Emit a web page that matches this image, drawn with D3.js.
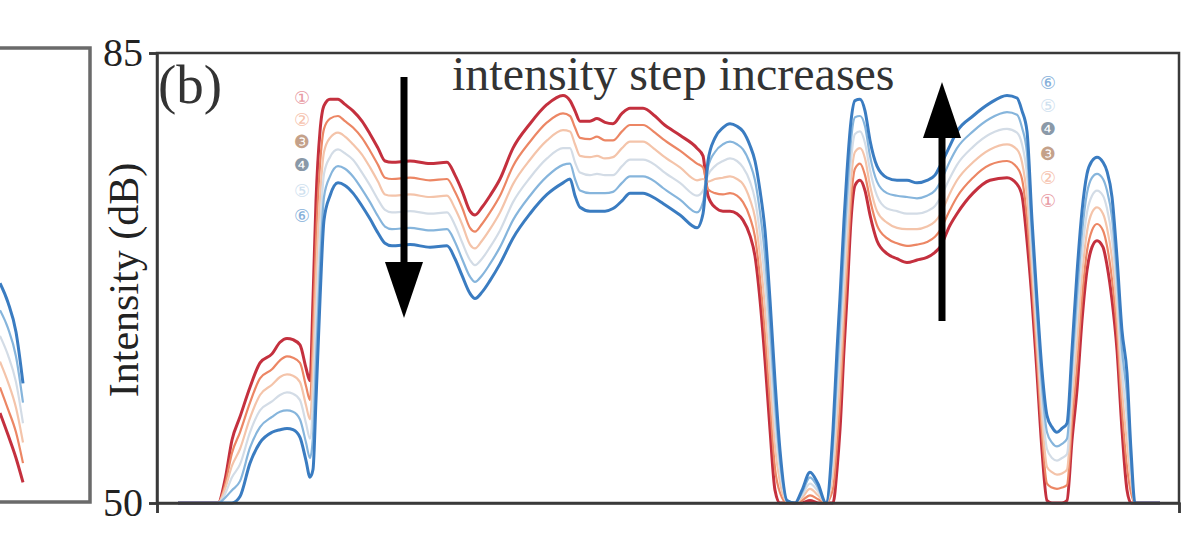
<!DOCTYPE html>
<html><head><meta charset="utf-8">
<script src="https://cdn.jsdelivr.net/npm/d3@7"></script>
<style>html,body{margin:0;padding:0;background:#fff;}svg{display:block;}</style>
</head><body>
<svg id="chart" width="1200" height="551"></svg>
<script>
// ---- data ----
const positions = [21,61,68,75,83,93,103,115,123,130,136,143,149,153,156,159,163,167,173,181,188,196,205,213,221,228,235,253,273,290,298,305,313,318,325,333,343,356,373,390,406,413,418,423,433,440,448,456,465,473,486,498,506,523,540,546,551,558,566,573,580,586,593,598,603,608,613,618,623,630,638,645,653,661,669,676,680,683,687,690,694,698,703,708,713,720,730,740,750,760,770,778,783,793,800,816,833,850,860,865,870,875,880,885,890,895,900,905,910,915,920,925,930,935,940,946,950,955,960,965,970,974,978,1003];
const series1 = [50,50,51.8,54.9,56.7,59.0,60.9,61.6,62.5,62.8, 62.7,62.3,60.5,59.5,65.8,73.5,78.9,80.9,81.4,81.4, 81.0,80.5,79.7,78.7,77.6,76.6,76.5,76.6,76.4,76.5, 75.5,74.3,72.7,72.4,73.0,73.9,75.2,77.6,79.5,81.0, 81.7,81.3,80.5,79.7,79.7,79.9,79.6,79.5,80.3,80.7, 80.7,80.1,79.5,78.6,77.6,77.0,73.9,73.0,72.7,72.7, 72.5,72.0,70.8,69.2,65.8,61.1,55.7,51.0,50.0,50, 50,50,50.2,50,50,50,52.6,55.7,61.9,66.0, 72.0,74.7,75.1,74.3,72.4,70.4,69.4,69.0,68.7,68.9, 69.1,69.5,69.9,71.6,72.5,74.1,75.1,75.3,74.8,73.9, 70.4,65.8,60.1,54.1,50.2,50,50,50,50.2,54.9, 58.8,64.2,68.1,69.9,70.4,69.9,68.5,65.8,61.9,55.7, 51.0,50,50,50];
const series2 = [50,50,51.4,53.9,55.5,57.8,59.7,60.4,61.1,61.4, 61.3,60.9,59.1,58.0,63.2,70.4,76.3,79.1,79.9,80.1, 79.7,79.2,78.4,77.4,76.3,75.3,75.2,75.3,75.1,75.2, 74.2,73.0,71.4,71.1,71.7,72.6,73.9,76.2,78.1,79.6, 80.3,80.1,79.2,78.4,78.3,78.5,78.2,78.2,78.9,79.4, 79.4,78.8,78.3,77.4,76.4,76.1,74.4,74.1,74.0,74.1, 73.9,73.4,72.2,70.7,67.5,63.1,57.7,52.7,50.8,50, 50,50.2,50.6,50.3,50,51.1,54.5,57.8,63.9,68.0, 73.5,76.0,76.4,75.5,73.6,71.6,70.6,70.2,70.0,70.1, 70.3,70.7,71.2,72.8,73.8,75.3,76.3,76.6,76.1,75.2, 72.1,67.0,61.2,55.3,51.5,51.2,51.1,51.2,51.4,56.3, 60.6,65.9,69.6,71.2,71.7,71.2,70.0,67.4,63.3,57.2, 52.8,50.8,50,50];
const series3 = [50,50,51.1,52.9,54.2,56.6,58.4,59.2,59.8,60.0, 59.9,59.4,57.6,56.5,60.5,67.3,73.7,77.3,78.4,78.8, 78.5,77.9,77.1,76.1,75.0,74.0,73.9,74.0,73.8,73.9, 72.9,71.7,70.1,69.8,70.4,71.3,72.6,74.8,76.7,78.2, 79.0,78.9,77.9,77.0,76.9,77.0,76.8,76.9,77.6,78.1, 78.1,77.5,77.0,76.1,75.1,75.2,75.0,75.2,75.3,75.4, 75.2,74.8,73.6,72.2,69.2,65.1,59.7,54.4,51.6,50.1, 50,50.4,51.1,50.6,50,52.3,56.3,59.8,65.9,69.9, 75.1,77.3,77.6,76.8,74.7,72.7,71.8,71.4,71.3,71.3, 71.5,71.9,72.4,74.1,75.1,76.5,77.5,77.9,77.5,76.5, 73.8,68.3,62.4,56.6,52.8,52.4,52.2,52.3,52.6,57.7, 62.4,67.6,71.1,72.6,73.0,72.5,71.4,69.0,64.8,58.8, 54.6,51.6,50,50];
const series4 = [50,50,50.7,52.0,53.0,55.5,57.2,57.9,58.4,58.6, 58.5,58.0,56.2,55.0,57.9,64.2,71.0,75.6,76.9,77.5, 77.2,76.7,75.7,74.7,73.6,72.8,72.6,72.7,72.5,72.6, 71.6,70.3,68.9,68.5,69.0,69.9,71.2,73.4,75.3,76.8, 77.6,77.6,76.5,75.7,75.5,75.6,75.5,75.5,76.2,76.7, 76.7,76.3,75.8,74.9,73.9,74.3,75.5,76.2,76.6,76.8, 76.6,76.1,75.0,73.6,70.9,67.2,61.8,56.1,52.5,50.1, 50,50.6,51.5,50.9,50,53.4,58.2,61.9,68.0,71.9, 76.6,78.7,78.9,78.0,75.9,73.9,72.9,72.7,72.5,72.5, 72.7,73.1,73.7,75.3,76.3,77.7,78.7,79.1,78.8,77.9, 75.5,69.5,63.5,57.8,54.2,53.5,53.3,53.5,53.8,59.1, 64.3,69.3,72.6,73.9,74.3,73.9,72.9,70.6,66.2,60.3, 56.5,52.5,50,50];
const series5 = [50,50,50.4,51.0,51.7,54.3,55.9,56.7,57.1,57.2, 57.1,56.5,54.7,53.5,55.2,61.1,68.4,73.8,75.4,76.2, 76.0,75.4,74.4,73.4,72.3,71.5,71.3,71.4,71.2,71.3, 70.3,69.0,67.6,67.2,67.7,68.6,69.9,72.0,73.9,75.4, 76.3,76.4,75.2,74.3,74.1,74.1,74.1,74.2,74.9,75.4, 75.4,75.0,74.5,73.6,72.6,73.4,76.1,77.3,77.9,78.1, 77.9,77.5,76.4,75.1,72.6,69.2,63.8,57.8,53.3,50.2, 50,50.8,52.0,51.2,50,54.6,60.0,63.9,70.0,73.8, 78.2,80.0,80.1,79.3,77.0,75.0,74.1,73.9,73.8,73.7, 73.9,74.3,74.9,76.6,77.6,78.9,79.9,80.4,80.2,79.2, 77.2,70.8,64.7,59.1,55.5,54.7,54.4,54.6,55.0,60.5, 66.1,71.0,74.1,75.3,75.6,75.2,74.3,72.2,67.7,61.9, 58.3,53.3,50,50];
const series6 = [50,50,50,50,50.5,53.1,54.7,55.5,55.7,55.8, 55.7,55.1,53.3,52.0,52.6,58.0,65.8,72.0,73.9,74.9, 74.7,74.1,73.1,72.1,71.0,70.2,70.0,70.1,69.9,70.0, 69.0,67.7,66.3,65.9,66.4,67.3,68.6,70.6,72.5,74.0, 74.9,75.2,73.9,73.0,72.7,72.7,72.7,72.9,73.5,74.1, 74.1,73.7,73.3,72.4,71.4,72.5,76.6,78.4,79.2,79.5, 79.3,78.9,77.8,76.6,74.3,71.2,65.8,59.5,54.1,50.2, 50,51.0,52.4,51.5,50,55.7,61.9,66.0,72.0,75.8, 79.7,81.3,81.4,80.5,78.2,76.2,75.3,75.1,75.1,74.9, 75.1,75.5,76.2,77.8,78.9,80.1,81.1,81.7,81.5,80.5, 78.9,72.0,65.8,60.3,56.8,55.9,55.5,55.8,56.2,61.9, 67.9,72.7,75.6,76.6,76.9,76.5,75.8,73.8,69.1,63.4, 60.1,54.1,50,50];

// partial neighbouring panel (a), only its right edge is visible
const positionsA = [0, 8, 16, 23];
const seriesA1 = [57.0, 55.3, 53.5, 51.6];
const seriesA2 = [59.0, 57.3, 55.5, 53.1];
const seriesA3 = [61.0, 59.4, 57.4, 54.7];
const seriesA4 = [63.0, 61.5, 59.4, 56.2];
const seriesA5 = [65.0, 63.6, 61.4, 57.8];
const seriesA6 = [67.1, 65.6, 63.3, 59.3];

const legendLabels = ["①", "②", "❸", "❹", "⑤", "⑥"];
const yTickValues = [50, 85];
const yLabel = "Intensity (dB)";
const panelLabel = "(b)";
const annotation = "intensity step increases";

// ---- styles ----
const lineColors = ["#c4303e", "#ec8664", "#f4c4aa", "#d3dce6", "#86b5dc", "#3a7cc1"];
const lineWidths = [3, 2.2, 2.2, 2.2, 2.2, 3];
const legendColors = ["#e89aa3", "#f6c2ae", "#c4a18a", "#8a99a8", "#cfe1ef", "#86b0da"];

const svg = d3.select("#chart");
const L = 157, R = 1179, T = 53, B = 503;
const x = d3.scaleLinear().domain([0, 1022]).range([L, R]);
const y = d3.scaleLinear().domain([50, 85]).range([B, T]);

// panel (a) partial
const xA = d3.scaleLinear().domain([0, 90]).range([0, 90]);
const seriesA = [seriesA1, seriesA2, seriesA3, seriesA4, seriesA5, seriesA6];
const lineA = d3.line().x((d, i) => xA(positionsA[i])).y(d => y(d)).curve(d3.curveMonotoneX);
seriesA.forEach((s, k) => {
  svg.append("path").attr("d", lineA(s)).attr("fill", "none")
    .attr("stroke", lineColors[k]).attr("stroke-width", lineWidths[k]);
});
svg.append("path").attr("d", `M0,${y(85)-5}H90V${y(50)-1}H0`)
  .attr("fill", "none").attr("stroke", "#6a6a6a").attr("stroke-width", 3.5);

// panel (b) lines
const allSeries = [series1, series2, series3, series4, series5, series6];
const line = d3.line().x((d, i) => x(positions[i])).y(d => y(d)).curve(d3.curveMonotoneX);
allSeries.forEach((s, k) => {
  svg.append("path").attr("d", line(s)).attr("fill", "none")
    .attr("stroke", lineColors[k]).attr("stroke-width", lineWidths[k])
    .attr("stroke-linejoin", "round");
});

// frame
svg.append("rect").attr("x", L).attr("y", T).attr("width", R - L).attr("height", B - T)
  .attr("fill", "none").attr("stroke", "#3a3a3a").attr("stroke-width", 2.5);

// y axis
const yAxis = d3.axisLeft(y).tickValues(yTickValues).tickSize(8).tickPadding(6);
const gy = svg.append("g").attr("transform", `translate(${L},0)`).call(yAxis);
gy.select(".domain").attr("stroke", "#3a3a3a").attr("stroke-width", 2.5);
gy.selectAll(".tick line").attr("stroke", "#3a3a3a").attr("stroke-width", 2.5);
gy.selectAll(".tick text").attr("font-family", "'Liberation Serif', serif")
  .attr("font-size", 40).attr("fill", "#222");

// x axis end ticks
const gx = svg.append("g").attr("transform", `translate(0,${B})`)
  .call(d3.axisBottom(x).tickValues([0, 1022]).tickSize(10).tickFormat(""));
gx.select(".domain").attr("stroke", "#3a3a3a").attr("stroke-width", 2.5);
gx.selectAll(".tick line").attr("stroke", "#3a3a3a").attr("stroke-width", 2.5);

// y label
svg.append("text").attr("transform", `translate(124,${(T + B) / 2 + 2}) rotate(-90)`)
  .attr("text-anchor", "middle").attr("dominant-baseline", "central")
  .attr("font-family", "'Liberation Serif', serif").attr("font-size", 42).attr("fill", "#222")
  .text(yLabel);

// panel label & annotation
svg.append("text").attr("x", 158).attr("y", 103).attr("font-family", "'Liberation Serif', serif")
  .attr("font-size", 55).attr("fill", "#333").text(panelLabel);
svg.append("text").attr("x", 452).attr("y", 90).attr("font-family", "'Liberation Serif', serif")
  .attr("font-size", 48).attr("fill", "#333").text(annotation);

// arrows
function arrow(xc, yTail, yTip) {
  const dir = yTip > yTail ? 1 : -1;
  const headLen = 56, headW = 19;
  const baseY = yTip - dir * headLen;
  svg.append("line").attr("x1", xc).attr("x2", xc).attr("y1", yTail).attr("y2", baseY)
    .attr("stroke", "#000").attr("stroke-width", 7);
  svg.append("path").attr("d", `M${xc - headW},${baseY}L${xc + headW},${baseY}L${xc},${yTip}Z`)
    .attr("fill", "#000");
}
arrow(404, 77, 318);
arrow(942, 321, 82);

// legends
const legLeftY = [97, 119, 141, 164, 190, 215];
const legRightY = [200, 177, 153, 128, 105, 82];
legendLabels.forEach((lab, k) => {
  [[302, legLeftY[k]], [1048, legRightY[k]]].forEach(([lx, ly]) => {
    svg.append("text").attr("x", lx).attr("y", ly).attr("text-anchor", "middle")
      .attr("dominant-baseline", "central")
      .attr("font-family", "'DejaVu Sans', 'Noto Sans CJK SC', sans-serif").attr("font-size", 18)
      .attr("fill", legendColors[k]).text(lab);
  });
});
</script>
</body></html>
